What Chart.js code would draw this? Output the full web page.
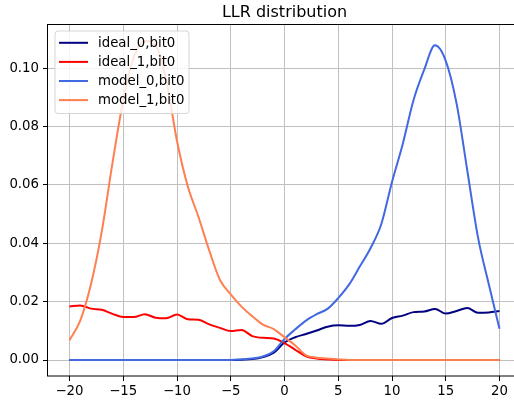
<!DOCTYPE html>
<html>
<head>
<meta charset="utf-8">
<script src="https://cdn.jsdelivr.net/npm/chart.js@4/dist/chart.umd.min.js"></script>
<style>
  html, body { margin: 0; padding: 0; background: #fff; overflow: hidden; }
  canvas { display: block; }
</style>
</head>
<body>
<canvas id="c" width="521" height="402"></canvas>
<script>
// LLR grid (x positions of the density estimates)
const llr = [-20, -19, -18, -17, -16, -15, -14, -13, -12, -11, -10, -9, -8, -7, -6, -5, -4, -3, -2, -1,
             0, 1, 2, 3, 4, 5, 6, 7, 8, 9, 10, 11, 12, 13, 14, 15, 16, 17, 18, 19, 20];

const ideal0 = [0, 0, 0, 0, 0, 0, 0, 0, 0, 0, 0, 0, 0, 0, 0, 0, 0.0001, 0.0003, 0.0010, 0.0025,
                0.0060, 0.0078, 0.0089, 0.0101, 0.0114, 0.0119, 0.0117, 0.0120, 0.0134, 0.0124,
                0.0144, 0.0152, 0.0164, 0.0166, 0.0175, 0.0159, 0.0168, 0.0178, 0.0162, 0.0163, 0.0168];

const ideal1 = [0.0183, 0.0187, 0.0176, 0.0172, 0.0158, 0.0147, 0.0147, 0.0157, 0.0145, 0.0143,
                0.0156, 0.0140, 0.0138, 0.0122, 0.0110, 0.0099, 0.0103, 0.0082, 0.0076, 0.0074,
                0.0058, 0.0035, 0.0013, 0.0005, 0.0002, 0, 0, 0, 0, 0, 0, 0, 0, 0, 0, 0, 0, 0, 0, 0, 0];

const model0 = [0, 0, 0, 0, 0, 0, 0, 0, 0, 0, 0, 0, 0, 0, 0, 0, 0.0002, 0.0005, 0.0012, 0.0030,
                0.0072, 0.0105, 0.0135, 0.0157, 0.0175, 0.0212, 0.0258, 0.0320, 0.0383, 0.0465,
                0.0610, 0.0740, 0.0890, 0.0995, 0.1078, 0.1025, 0.0880, 0.0650, 0.0420, 0.0260, 0.0107];

const model1 = [0.0068, 0.0135, 0.0260, 0.0440, 0.0675, 0.0890, 0.1040, 0.1093, 0.1078, 0.0960,
                0.0750, 0.0595, 0.0490, 0.0375, 0.0274, 0.0225, 0.0183, 0.0150, 0.0121, 0.0106,
                0.0078, 0.0050, 0.0016, 0.0008, 0.0005, 0.0002, 0, 0, 0, 0, 0, 0, 0, 0, 0, 0, 0, 0, 0, 0, 0];

const seriesNames = ['ideal_0,bit0', 'ideal_1,bit0', 'model_0,bit0', 'model_1,bit0'];
const xTicks = [-20, -15, -10, -5, 0, 5, 10, 15, 20];
const yTicks = [0.00, 0.02, 0.04, 0.06, 0.08, 0.10];
const chartTitle = 'LLR distribution';

const FONT = "'DejaVu Sans', sans-serif";

function pts(values) {
  return llr.map((x, i) => ({ x: x, y: values[i] }));
}

function series(label, values, color, order) {
  return {
    label: label,
    data: pts(values),
    borderColor: color,
    backgroundColor: color,
    borderWidth: 2,
    pointRadius: 0,
    fill: false,
    cubicInterpolationMode: 'monotone',
    order: order
  };
}

// frame, title and in-axes legend box
const decorations = {
  id: 'decorations',
  afterDatasetsDraw(chart) {
    const ctx = chart.ctx;
    const a = chart.chartArea;
    ctx.save();
    // legend
    const bx = a.left + 7, by = a.top + 7, bw = 134, bh = 82.5;
    const r = 3;
    ctx.beginPath();
    ctx.moveTo(bx + r, by);
    ctx.lineTo(bx + bw - r, by);
    ctx.arcTo(bx + bw, by, bx + bw, by + r, r);
    ctx.lineTo(bx + bw, by + bh - r);
    ctx.arcTo(bx + bw, by + bh, bx + bw - r, by + bh, r);
    ctx.lineTo(bx + r, by + bh);
    ctx.arcTo(bx, by + bh, bx, by + bh - r, r);
    ctx.lineTo(bx, by + r);
    ctx.arcTo(bx, by, bx + r, by, r);
    ctx.closePath();
    ctx.fillStyle = 'rgba(255,255,255,0.8)';
    ctx.fill();
    ctx.strokeStyle = 'rgba(204,204,204,0.8)';
    ctx.lineWidth = 1;
    ctx.stroke();

    ctx.font = '13.3px ' + FONT;
    ctx.textBaseline = 'middle';
    ctx.textAlign = 'left';
    ctx.fillStyle = '#000';
    seriesNames.forEach((name, i) => {
      const ds = chart.data.datasets.find(d => d.label === name);
      const y = a.top + 18.8 + i * 19.1;
      ctx.beginPath();
      ctx.moveTo(bx + 4, y);
      ctx.lineTo(bx + 33, y);
      ctx.strokeStyle = ds.borderColor;
      ctx.lineWidth = 2;
      ctx.stroke();
      ctx.fillText(name, bx + 43, y + 0.5);
    });
    ctx.restore();
  },
  afterDraw(chart) {
    const ctx = chart.ctx;
    const a = chart.chartArea;
    ctx.save();
    ctx.strokeStyle = '#000';
    ctx.lineWidth = 1;
    ctx.strokeRect(Math.round(a.left) - 0.5, Math.round(a.top) + 0.5,
                   Math.round(a.right) - Math.round(a.left) + 1, Math.round(a.bottom) - Math.round(a.top) - 0.5);
    ctx.fillStyle = '#000';
    ctx.font = '16px ' + FONT;
    ctx.textAlign = 'center';
    ctx.textBaseline = 'alphabetic';
    ctx.fillText(chartTitle, (a.left + a.right) / 2, 17);
    ctx.restore();
  }
};

new Chart(document.getElementById('c'), {
  type: 'line',
  data: {
    datasets: [
      series(seriesNames[0], ideal0, '#000080', 3),
      series(seriesNames[1], ideal1, '#ff0000', 2),
      series(seriesNames[2], model0, '#4169e1', 1),
      series(seriesNames[3], model1, '#ff7f50', 0)
    ]
  },
  options: {
    responsive: false,
    devicePixelRatio: 1,
    animation: false,
    layout: { padding: { top: 24, left: 0, right: 0, bottom: 0 } },
    plugins: {
      legend: { display: false },
      title: { display: false },
      tooltip: { enabled: false }
    },
    scales: {
      x: {
        type: 'linear',
        min: -22,
        max: 22,
        afterBuildTicks(scale) { scale.ticks = xTicks.map(v => ({ value: v })); },
        afterFit(scale) { scale.height = 26; },
        border: { display: false },
        grid: { color: '#c0c0c0', lineWidth: 1, tickColor: '#000', tickLength: 5, tickWidth: 1 },
        ticks: {
          color: '#000',
          font: { family: FONT, size: 13.3 },
          padding: 3,
          maxRotation: 0,
          autoSkip: false,
          callback: v => (v < 0 ? '\u2212' + Math.abs(v) : String(v))
        }
      },
      y: {
        type: 'linear',
        min: -0.00548,
        max: 0.1151,
        afterBuildTicks(scale) { scale.ticks = yTicks.map(v => ({ value: v })); },
        afterFit(scale) { scale.width = 48; },
        border: { display: false },
        grid: { color: '#c0c0c0', lineWidth: 1, tickColor: '#000', tickLength: 5, tickWidth: 1 },
        ticks: {
          color: '#000',
          font: { family: FONT, size: 13.3 },
          padding: 4,
          autoSkip: false,
          callback: v => v.toFixed(2)
        }
      }
    }
  },
  plugins: [decorations]
});
</script>
</body>
</html>
